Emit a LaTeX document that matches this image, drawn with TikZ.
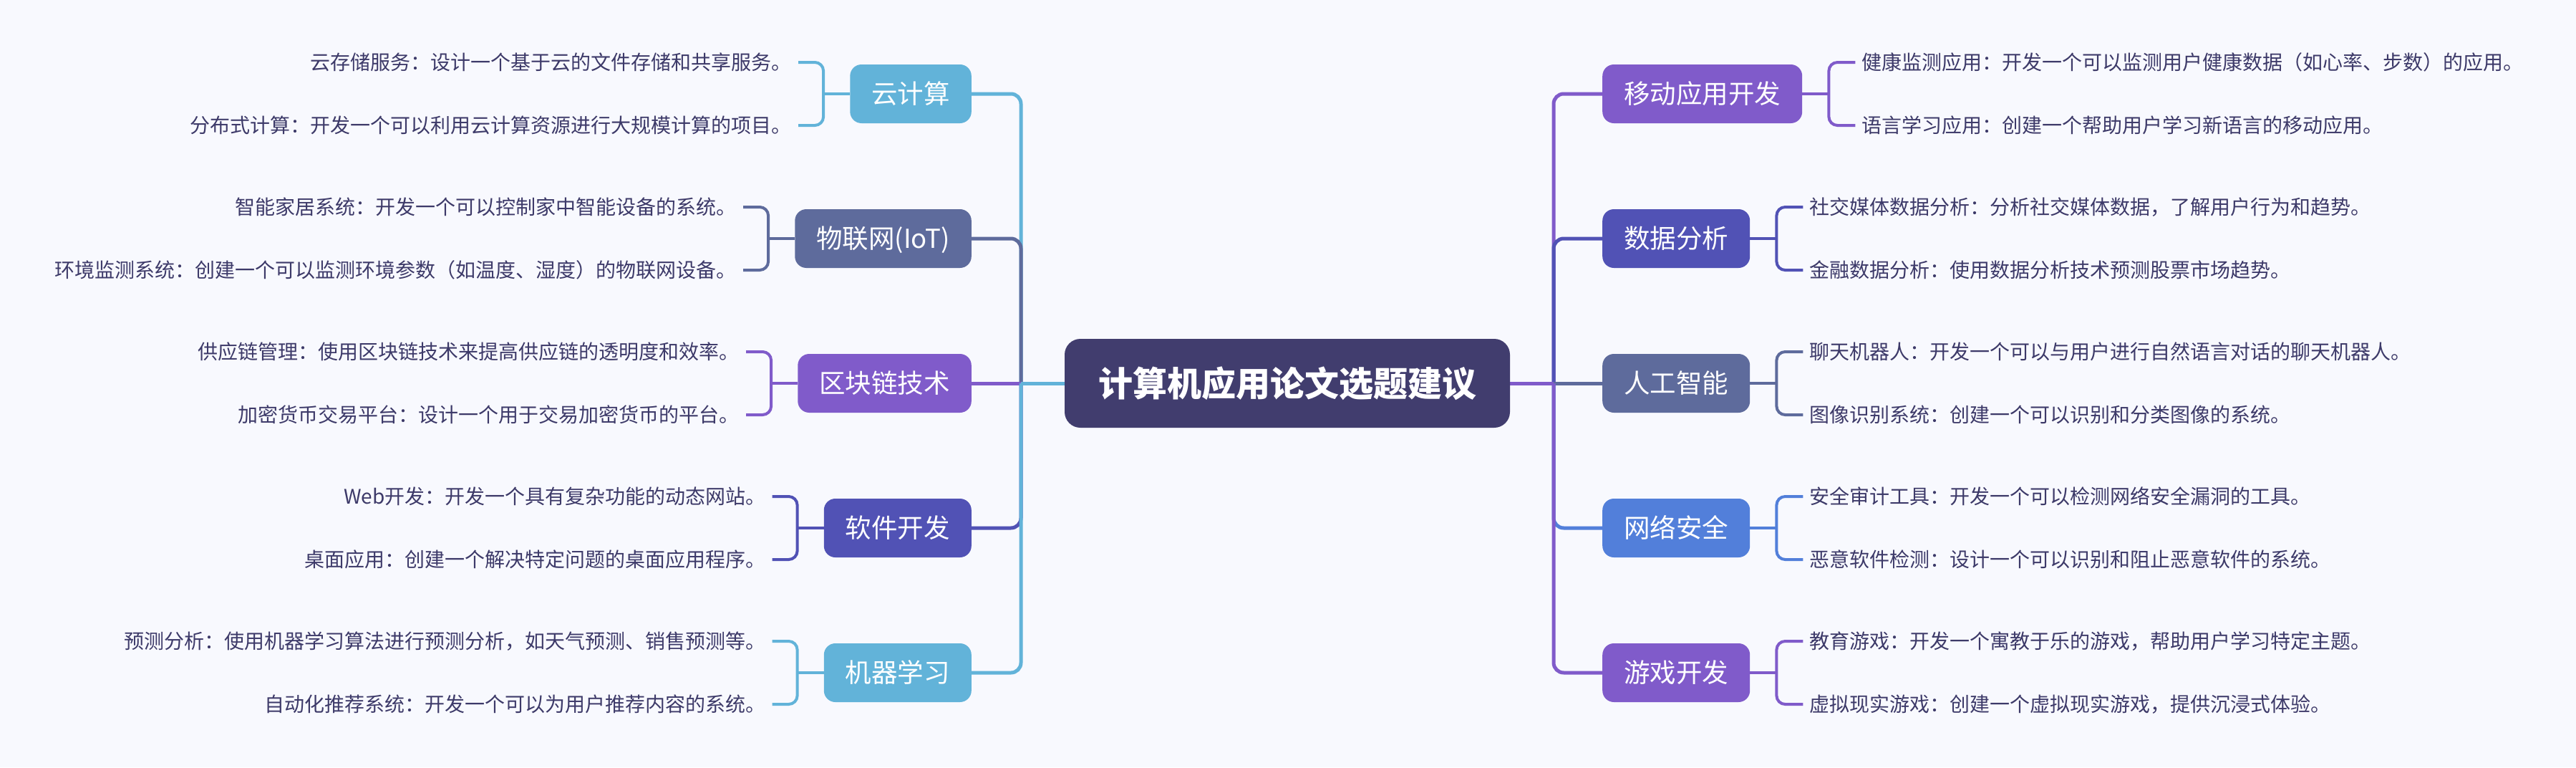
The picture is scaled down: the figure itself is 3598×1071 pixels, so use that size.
\documentclass[tikz,border=0pt]{standalone}
\usepackage{fontspec}
\setmainfont{Noto Sans CJK SC}
\usetikzlibrary{calc}
\definecolor{bgc}{HTML}{F8F9FE}
\definecolor{cyanc}{HTML}{62B3D9}
\definecolor{slatec}{HTML}{5E6B9C}
\definecolor{purpc}{HTML}{805BCA}
\definecolor{indc}{HTML}{5152B5}
\definecolor{bluec}{HTML}{527FDA}
\definecolor{centc}{HTML}{413D6E}
\definecolor{leafc}{HTML}{3D3A69}
\pgfdeclarelayer{bg}
\pgfsetlayers{bg,main}
\tikzset{
  leaf/.style={text=leafc, font=\fontsize{28}{32}\selectfont, inner xsep=9pt, inner ysep=0pt, text height=24.6pt, text depth=3.4pt},
  box/.style={rounded corners=16pt, text=white, font=\fontsize{36.5}{40}\selectfont, minimum height=82pt, inner xsep=30pt, inner ysep=0pt, text height=32.1pt, text depth=4.4pt},
  central/.style={rounded corners=22pt, fill=centc, text=white, font=\fontsize{48}{52}\selectfont\bfseries, minimum height=124pt, inner xsep=47pt, inner ysep=0pt, text height=42.2pt, text depth=5.8pt},
  trunk/.style={line width=5pt, rounded corners=14pt},
  bra/.style={line width=4pt, rounded corners=12pt},
}
\newcommand\lbranch[7]{%
  \node[box, fill=#3, anchor=east] (#1) at (1357,#2) {#4};
  \node[leaf, anchor=east] (#1a) at ($(#1.west)+(-72,-44)$) {#5};
  \node[leaf, anchor=east] (#1b) at ($(#1.west)+(-72,44)$) {#6};
  \coordinate (#1k) at ($(#1.west)+(-37,0)$);
  \begin{pgfonlayer}{bg}
    \draw[bra, draw=#3] (#1a.east) -| (#1k) |- (#1b.east);
    \draw[bra, draw=#3, rounded corners=0pt] (#1k) -- (#1.west);
    \draw[trunk, draw=#3, rounded corners=0pt] (C.west) -- (JL);
    \draw[trunk, draw=#3] (JL) #7 (#1.east);
  \end{pgfonlayer}
}
\newcommand\rbranch[7]{%
  \node[box, fill=#3, anchor=west] (#1) at (2238,#2) {#4};
  \node[leaf, anchor=west] (#1a) at ($(#1.east)+(74,-44)$) {#5};
  \node[leaf, anchor=west] (#1b) at ($(#1.east)+(74,44)$) {#6};
  \coordinate (#1k) at ($(#1.east)+(37,0)$);
  \begin{pgfonlayer}{bg}
    \draw[bra, draw=#3] (#1a.west) -| (#1k) |- (#1b.west);
    \draw[bra, draw=#3, rounded corners=0pt] (#1k) -- (#1.east);
    \draw[trunk, draw=#3, rounded corners=0pt] (C.east) -- (JR);
    \draw[trunk, draw=#3] (JR) #7 (#1.west);
  \end{pgfonlayer}
}
\begin{document}
\begin{tikzpicture}[x=1pt,y=-1pt]
\begin{pgfonlayer}{bg}
  \fill[bgc] (0,0) rectangle (3598,1071);
\end{pgfonlayer}
\useasboundingbox (0,0) rectangle (3598,1071);
\node[central] (C) at (1798,535) {计算机应用论文选题建议};
\coordinate (JL) at (1426,535);
\coordinate (JR) at (2170,535);
\lbranch{L1}{131}{cyanc}{云计算}{云存储服务：设计一个基于云的文件存储和共享服务。}{分布式计算：开发一个可以利用云计算资源进行大规模计算的项目。}{|-}
\lbranch{L2}{333}{slatec}{物联网(IoT)}{智能家居系统：开发一个可以控制家中智能设备的系统。}{环境监测系统：创建一个可以监测环境参数（如温度、湿度）的物联网设备。}{|-}
\lbranch{L3}{535}{purpc}{区块链技术}{供应链管理：使用区块链技术来提高供应链的透明度和效率。}{加密货币交易平台：设计一个用于交易加密货币的平台。}{--}
\lbranch{L4}{737}{indc}{软件开发}{Web开发：开发一个具有复杂功能的动态网站。}{桌面应用：创建一个解决特定问题的桌面应用程序。}{|-}
\lbranch{L5}{939}{cyanc}{机器学习}{预测分析：使用机器学习算法进行预测分析，如天气预测、销售预测等。}{自动化推荐系统：开发一个可以为用户推荐内容的系统。}{|-}
\rbranch{R1}{131}{purpc}{移动应用开发}{健康监测应用：开发一个可以监测用户健康数据（如心率、步数）的应用。}{语言学习应用：创建一个帮助用户学习新语言的移动应用。}{|-}
\rbranch{R2}{333}{indc}{数据分析}{社交媒体数据分析：分析社交媒体数据，了解用户行为和趋势。}{金融数据分析：使用数据分析技术预测股票市场趋势。}{|-}
\rbranch{R3}{535}{slatec}{人工智能}{聊天机器人：开发一个可以与用户进行自然语言对话的聊天机器人。}{图像识别系统：创建一个可以识别和分类图像的系统。}{--}
\rbranch{R4}{737}{bluec}{网络安全}{安全审计工具：开发一个可以检测网络安全漏洞的工具。}{恶意软件检测：设计一个可以识别和阻止恶意软件的系统。}{|-}
\rbranch{R5}{939}{purpc}{游戏开发}{教育游戏：开发一个寓教于乐的游戏，帮助用户学习特定主题。}{虚拟现实游戏：创建一个虚拟现实游戏，提供沉浸式体验。}{|-}
\end{tikzpicture}
\end{document}
